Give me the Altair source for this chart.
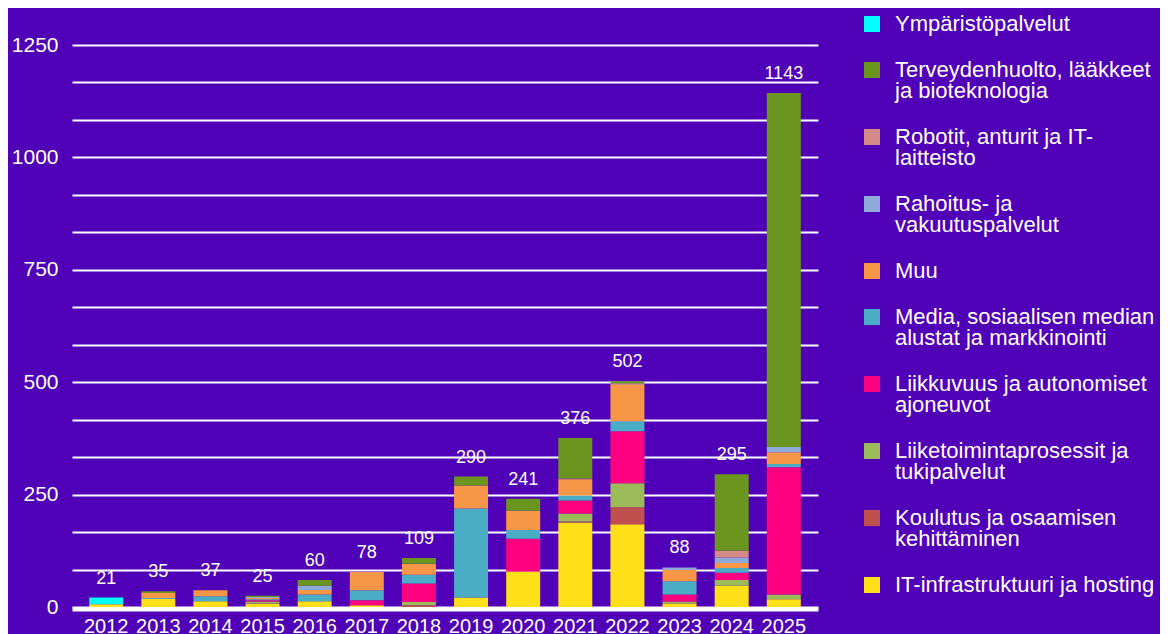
import altair as alt
import pandas as pd

years = ["2012", "2013", "2014", "2015", "2016", "2017", "2018",
         "2019", "2020", "2021", "2022", "2023", "2024", "2025"]

# stack order: bottom -> top
categories = [
    "IT-infrastruktuuri ja hosting",
    "Koulutus ja osaamisen kehittäminen",
    "Liiketoimintaprosessit ja tukipalvelut",
    "Liikkuvuus ja autonomiset ajoneuvot",
    "Media, sosiaalisen median alustat ja markkinointi",
    "Muu",
    "Rahoitus- ja vakuutuspalvelut",
    "Robotit, anturit ja IT-laitteisto",
    "Terveydenhuolto, lääkkeet ja bioteknologia",
    "Ympäristöpalvelut",
]

colors = ["#ffdf17", "#c0504d", "#9bbb59", "#ff0080", "#4bacc6",
          "#f79646", "#8eaad8", "#d68a86", "#6a961f", "#00ffff"]

it_infra = [6, 18, 13, 7, 13, 4, 0, 21, 79, 188, 184, 8, 47, 17]
koulutus = [0, 0, 0, 1, 0, 0, 4, 0, 0, 2, 38, 0, 0, 0]
liiketoiminta = [0, 0, 0, 4, 0, 0, 7, 0, 0, 18, 53, 4, 13, 11]
liikkuvuus = [0, 0, 0, 3, 0, 11, 41, 0, 73, 29, 116, 16, 16, 283]
media = [0, 2, 11, 2, 15, 22, 20, 198, 19, 11, 22, 29, 11, 7]
muu = [0, 11, 13, 3, 10, 41, 24, 51, 43, 36, 81, 26, 11, 26]
rahoitus = [0, 0, 0, 2, 9, 0, 0, 0, 0, 0, 0, 5, 12, 12]
robotit = [0, 0, 0, 0, 0, 0, 0, 0, 0, 2, 3, 0, 15, 0]
terveys = [0, 4, 0, 3, 13, 0, 13, 20, 27, 90, 5, 0, 170, 787]
ymparisto = [15, 0, 0, 0, 0, 0, 0, 0, 0, 0, 0, 0, 0, 0]

series = [it_infra, koulutus, liiketoiminta, liikkuvuus, media, muu,
          rahoitus, robotit, terveys, ymparisto]

legend_breaks = {
    "Terveydenhuolto, lääkkeet ja bioteknologia": ["Terveydenhuolto, lääkkeet", "ja bioteknologia"],
    "Robotit, anturit ja IT-laitteisto": ["Robotit, anturit ja IT-", "laitteisto"],
    "Rahoitus- ja vakuutuspalvelut": ["Rahoitus- ja", "vakuutuspalvelut"],
    "Media, sosiaalisen median alustat ja markkinointi": ["Media, sosiaalisen median", "alustat ja markkinointi"],
    "Liikkuvuus ja autonomiset ajoneuvot": ["Liikkuvuus ja autonomiset", "ajoneuvot"],
    "Liiketoimintaprosessit ja tukipalvelut": ["Liiketoimintaprosessit ja", "tukipalvelut"],
    "Koulutus ja osaamisen kehittäminen": ["Koulutus ja osaamisen", "kehittäminen"],
}

rows = []
for ci, (cat, vals) in enumerate(zip(categories, series)):
    for yr, v in zip(years, vals):
        rows.append({"Vuosi": yr, "Toimiala": cat, "Määrä": v, "jarj": ci})
df = pd.DataFrame(rows)

label_expr = "datum.label"
for k, parts in legend_breaks.items():
    arr = "[" + ", ".join("'" + p + "'" for p in parts) + "]"
    label_expr = f"datum.label == '{k}' ? {arr} : ({label_expr})"

FONT = "Liberation Sans"
grid_vals = [i * 250 / 3 for i in range(16)]

x_enc = alt.X("Vuosi:N", sort=years,
              scale=alt.Scale(paddingInner=0.348, paddingOuter=0.33),
              axis=alt.Axis(title=None, labelAngle=0, ticks=False, domain=True,
                            domainColor="white", domainWidth=4, offset=2,
                            labelColor="white", labelFontSize=20, labelPadding=7,
                            labelFont=FONT, grid=False))

bars = alt.Chart(df).mark_bar().encode(
    x=x_enc,
    y=alt.Y("sum(Määrä):Q", stack="zero",
            scale=alt.Scale(domain=[0, 1250], nice=False),
            axis=alt.Axis(title=None, values=grid_vals, tickCount=40, grid=True,
                          gridColor="white", gridWidth=2, gridOpacity=1,
                          domain=False, ticks=False,
                          labelPadding=14, labelFontSize=21, labelColor="white",
                          labelFont=FONT,
                          labelExpr="abs(datum.value/250 - round(datum.value/250)) < 0.001 ? format(datum.value, 'd') : ''")),
    color=alt.Color("Toimiala:N",
                    scale=alt.Scale(domain=categories[::-1], range=colors[::-1]),
                    legend=alt.Legend(title=None, orient="none", legendX=789, legendY=-32,
                                      symbolType="square", symbolSize=256,
                                      symbolStrokeWidth=0, symbolOpacity=1,
                                      labelFontSize=22, labelColor="white", labelFont=FONT,
                                      labelOffset=12, rowPadding=24, labelLimit=400,
                                      labelBaseline="middle",
                                      labelExpr=label_expr, padding=0)),
    order=alt.Order("jarj:Q", sort="ascending"),
)

totals = alt.Chart(df).mark_text(color="white", fontSize=18, font=FONT,
                                 baseline="alphabetic", dy=-14).encode(
    x=alt.X("Vuosi:N", sort=years),
    y=alt.Y("sum(Määrä):Q"),
    text=alt.Text("sum(Määrä):Q", format="d"),
)

chart = alt.layer(bars, totals).properties(
    width=746, height=562,
    background="#5000b6",
    padding={"left": 64, "top": 37, "right": 342, "bottom": 29},
    autosize=alt.AutoSizeParams(type="none"),
).configure(
    view=alt.ViewConfig(stroke=None),
    style={"guide-label": {"lineHeight": 21}},
)

chart.save("out.html", embed_options={"renderer": "svg", "actions": False})
